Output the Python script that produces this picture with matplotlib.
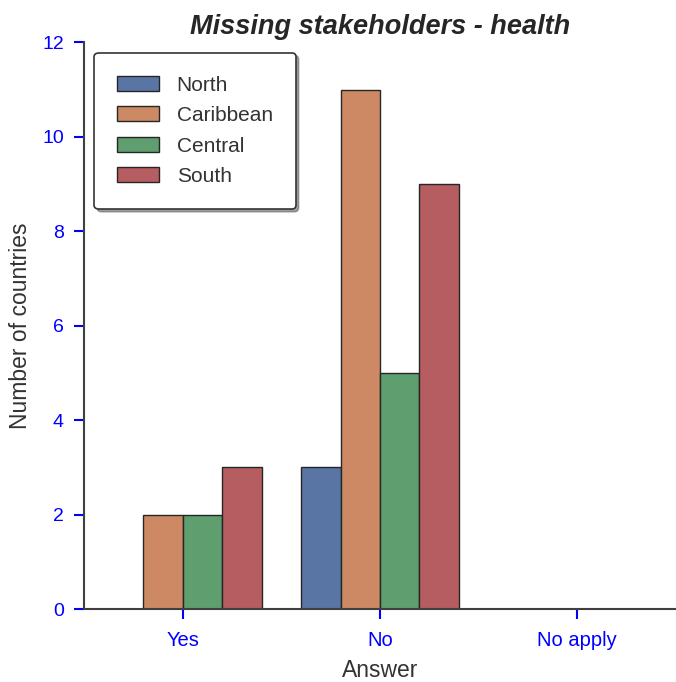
import numpy as np
import pandas as pd
import seaborn as sns
import matplotlib
matplotlib.use("Agg")
import matplotlib.pyplot as plt

# Data
answers = ["Yes", "No", "No apply"]
regions = ["North", "Caribbean", "Central", "South"]
north = [0, 3, 0]
caribbean = [2, 11, 0]
central = [2, 5, 0]
south = [3, 9, 0]

rows = []
for reg, vals in zip(regions, [north, caribbean, central, south]):
    for ans, v in zip(answers, vals):
        rows.append({"Answer": ans, "Region": reg, "count": v})
df = pd.DataFrame(rows)

sns.set_style("ticks")
plt.rcParams["font.family"] = ["Liberation Sans", "DejaVu Sans"]

fig = plt.figure(figsize=(6.76, 6.82), dpi=100)
ax = fig.add_axes([0.1243, 0.107, 0.8757, 0.831])

sns.barplot(data=df, x="Answer", y="count", hue="Region", order=answers,
            hue_order=regions, palette="deep", edgecolor="0.15",
            linewidth=1.0, ax=ax)

ax.set_ylim(0, 12)
ax.set_yticks(np.arange(0, 13, 2))
ax.set_xlim(-0.5, 2.5)
sns.despine(ax=ax)
for side in ["left", "bottom"]:
    ax.spines[side].set_color("0.25")
    ax.spines[side].set_linewidth(1.5)

ax.tick_params(axis="y", colors="blue", labelsize=14, length=7.5,
               width=1.5, pad=7)
ax.tick_params(axis="x", colors="blue", labelsize=14.5, length=7.5,
               width=1.5, pad=8)
ax.set_xlabel("Answer", fontsize=16.5, color="0.2", labelpad=7)
ax.set_ylabel("Number of countries", fontsize=16.5, color="0.2", labelpad=7)
ax.set_title("Missing stakeholders - health", fontsize=19.5,
             fontweight="bold", fontstyle="italic", color="0.15", pad=6)

leg = ax.legend(loc="upper left", frameon=True, shadow=True, fancybox=True,
                fontsize=15, borderpad=1.1, labelspacing=0.55,
                handlelength=2.0, handletextpad=0.85)
leg.get_frame().set_edgecolor("0.2")
leg.get_frame().set_linewidth(1.2)
for t in leg.get_texts():
    t.set_color("0.2")

fig.savefig("out.png", dpi=100)
